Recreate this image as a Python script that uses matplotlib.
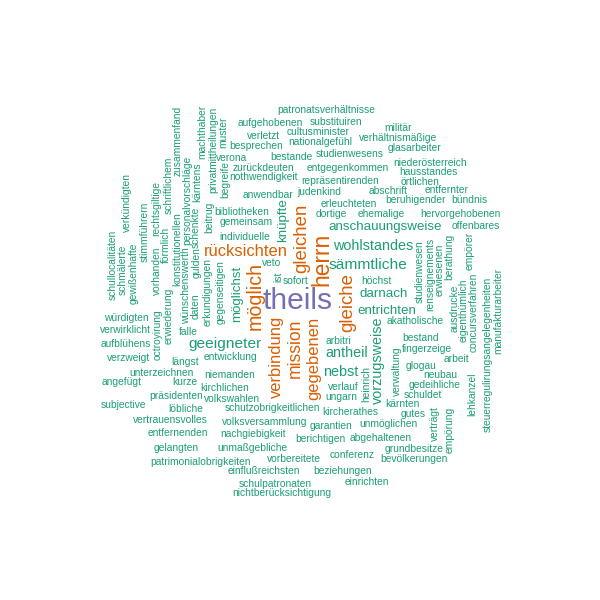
import matplotlib
matplotlib.use("Agg")
import matplotlib.pyplot as plt

words = [
    "theils", "herrn", "möglich", "gleichen", "gleiche", "mission",
    "rücksichten", "verbindung", "gegebenen",
    "sämmtliche", "geeigneter", "wohlstandes", "antheil", "nebst", "vorzugsweise",
    "entrichten", "möglichst", "knüpfte", "anschauungsweise", "darnach",
    "patronatsverhältnisse", "aufgehobenen", "substituiren", "cultusminister", "militär",
    "nationalgefühl", "verhältnismäßige", "verletzt", "besprechen", "glasarbeiter",
    "bestande", "studienwesens", "verona", "zurückdeuten", "entgegenkommen",
    "niederösterreich", "hausstandes", "nothwendigkeit", "repräsentirenden", "örtlichen",
    "anwendbar", "judenkind", "abschrift", "entfernter", "beruhigender", "bündnis",
    "erleuchteten", "dortige", "ehemalige", "hervorgehobenen", "offenbares",
    "bibliotheken", "gemeinsam", "individuelle", "muster", "privatmittheilungen",
    "machthaber", "begreife", "beitrug", "zusammenfand", "schriftlichem",
    "personalvorschläge", "kärntens", "schenkte", "konstitutionellen", "wünschenswerth",
    "förmlich", "rechtsgiltige", "vorhanden", "erwiederung", "octroyirung",
    "stimmführern", "verkündigten", "gewißenhafte", "schmälerte", "schullocalitäten",
    "gulden", "daten", "erkundigungen", "gegenseitigen", "veto", "ist", "sofort",
    "würdigten", "verwirklicht", "aufblühens", "verzweigt", "falle", "entwicklung",
    "längst", "unterzeichnen", "niemanden", "angefügt", "kurze", "kirchlichen",
    "präsidenten", "volkswahlen", "subjective", "löbliche", "schutzobrigkeitlichen",
    "vertrauensvolles", "volksversammlung", "entfernenden", "nachgiebigkeit", "gelangten",
    "unmaßgebliche", "patrimonialobrigkeiten", "vorbereitete", "einflußreichsten",
    "schulpatronaten", "nichtberücksichtigung", "beziehungen", "einrichten", "conferenz",
    "bevölkerungen", "grundbesitze", "berichtigen", "abgehaltenen", "garantien",
    "unmöglichen", "kircherathes", "kärnten", "gutes", "verträgt", "empörung",
    "lehkanzel", "steuerregulirungsangelegenheiten", "manufakturarbeiter", "empörer",
    "concursverfahren", "eigenthümlich", "ausdrucke", "berathung", "erwiesenen",
    "renseignements", "studienwesen", "akatholische", "bestand", "fingerzeige",
    "verwaltung", "glogau", "arbeit", "neubau", "gedeihliche", "schuldet", "heinrich",
    "verlauf", "ungarn", "arbitri", "höchst",
]
freq = [20, 13, 10, 9, 9, 8, 7, 7, 7, 6, 6, 5, 5, 5, 5, 4, 4, 4, 4, 4]
freq = freq + [1] * (len(words) - len(freq))

# where each word sits in the cloud (pixel coords, y down) and whether it is turned
layout = {
    "theils": (298, 301, 0), "herrn": (322, 259, 1), "möglich": (255, 296, 1),
    "gleichen": (302, 238, 1), "gleiche": (348, 303, 1), "mission": (295, 348, 1),
    "rücksichten": (246, 252, 0), "verbindung": (276, 357, 1), "gegebenen": (314, 358, 1),
    "sämmtliche": (368, 265, 0), "geeigneter": (225, 344, 0), "wohlstandes": (373, 246, 0),
    "antheil": (347, 353, 0), "nebst": (341, 372, 0), "vorzugsweise": (378, 360, 1),
    "entrichten": (387, 311, 0), "möglichst": (237, 294, 1), "knüpfte": (283, 220, 1),
    "anschauungsweise": (385, 227, 0), "darnach": (384, 294, 0),
    "patronatsverhältnisse": (326, 110, 0), "aufgehobenen": (270, 123, 0),
    "substituiren": (336, 122, 0), "cultusminister": (318, 132, 0), "militär": (398, 128, 0),
    "nationalgefühl": (320, 142, 0), "verhältnismäßige": (398, 138, 0),
    "verletzt": (264, 136, 0), "besprechen": (256, 146, 0), "glasarbeiter": (414, 148, 0),
    "bestande": (291, 157, 0), "studienwesens": (350, 154, 0), "verona": (232, 158, 0),
    "zurückdeuten": (263, 168, 0), "entgegenkommen": (348, 168, 0),
    "niederösterreich": (430, 163, 0), "hausstandes": (428, 172, 0),
    "nothwendigkeit": (264, 177, 0), "repräsentirenden": (340, 181, 0),
    "örtlichen": (420, 182, 0), "anwendbar": (268, 195, 0), "judenkind": (319, 192, 0),
    "abschrift": (388, 191, 0), "entfernter": (447, 190, 0), "beruhigender": (416, 200, 0),
    "bündnis": (469, 200, 0), "erleuchteten": (349, 204, 0), "dortige": (331, 214, 0),
    "ehemalige": (381, 214, 0), "hervorgehobenen": (460, 214, 0), "offenbares": (476, 226, 0),
    "bibliotheken": (242, 212, 0), "gemeinsam": (246, 222, 0), "individuelle": (245, 237, 0),
    "muster": (223, 132, 1), "privatmittheilungen": (213, 150, 1), "machthaber": (202, 132, 1),
    "begreife": (225, 180, 1), "beitrug": (209, 217, 1), "zusammenfand": (178, 141, 1),
    "schriftlichem": (169, 185, 1), "personalvorschläge": (187, 200, 1),
    "kärntens": (197, 182, 1), "schenkte": (196, 227, 1), "konstitutionellen": (177, 249, 1),
    "wünschenswerth": (186, 286, 1), "förmlich": (166, 245, 1), "rechtsgiltige": (156, 208, 1),
    "vorhanden": (157, 271, 1), "erwiederung": (169, 316, 1), "octroyirung": (158, 335, 1),
    "stimmführern": (145, 232, 1), "verkündigten": (127, 203, 1), "gewißenhafte": (134, 273, 1),
    "schmälerte": (123, 270, 1), "schullocalitäten": (113, 265, 1), "gulden": (197, 263, 1),
    "daten": (196, 306, 1), "erkundigungen": (208, 292, 1), "gegenseitigen": (221, 292, 1),
    "veto": (272, 263, 0), "ist": (278, 277, 1), "sofort": (296, 281, 0),
    "würdigten": (126, 318, 0), "verwirklicht": (125, 330, 0), "aufblühens": (126, 344, 0),
    "verzweigt": (129, 358, 0), "falle": (188, 332, 0), "entwicklung": (231, 357, 0),
    "längst": (185, 362, 0), "unterzeichnen": (162, 373, 0), "niemanden": (230, 375, 0),
    "angefügt": (122, 382, 0), "kurze": (185, 382, 0), "kirchlichen": (225, 388, 0),
    "präsidenten": (176, 396, 0), "volkswahlen": (232, 399, 0), "subjective": (123, 405, 0),
    "löbliche": (186, 409, 0), "schutzobrigkeitlichen": (272, 408, 0),
    "vertrauensvolles": (170, 420, 0), "volksversammlung": (265, 422, 0),
    "entfernenden": (178, 433, 0), "nachgiebigkeit": (253, 434, 0), "gelangten": (176, 448, 0),
    "unmaßgebliche": (252, 448, 0), "patrimonialobrigkeiten": (201, 462, 0),
    "vorbereitete": (294, 459, 0), "einflußreichsten": (264, 471, 0),
    "schulpatronaten": (275, 484, 0), "nichtberücksichtigung": (282, 493, 0),
    "beziehungen": (343, 471, 0), "einrichten": (367, 482, 0), "conferenz": (352, 455, 0),
    "bevölkerungen": (414, 459, 0), "grundbesitze": (414, 449, 0), "berichtigen": (320, 439, 0),
    "abgehaltenen": (381, 438, 0), "garantien": (331, 426, 0), "unmöglichen": (388, 424, 0),
    "kircherathes": (350, 412, 0), "kärnten": (402, 404, 0), "gutes": (413, 414, 0),
    "verträgt": (435, 424, 1), "empörung": (450, 430, 1), "lehkanzel": (472, 394, 1),
    "steuerregulirungsangelegenheiten": (488, 354, 1), "manufakturarbeiter": (498, 311, 1),
    "empörer": (470, 251, 1), "concursverfahren": (474, 312, 1), "eigenthümlich": (464, 310, 1),
    "ausdrucke": (455, 308, 1), "berathung": (449, 257, 1), "erwiesenen": (440, 270, 1),
    "renseignements": (430, 274, 1), "studienwesen": (420, 272, 1), "akatholische": (415, 321, 0),
    "bestand": (421, 338, 0), "fingerzeige": (427, 349, 0), "verwaltung": (397, 371, 1),
    "glogau": (421, 366, 0), "arbeit": (456, 359, 0), "neubau": (440, 375, 0),
    "gedeihliche": (435, 385, 0), "schuldet": (423, 395, 0), "heinrich": (366, 384, 1),
    "verlauf": (343, 387, 0), "ungarn": (341, 397, 0), "arbitri": (339, 341, 0),
    "höchst": (376, 281, 0),
}

palette = ["#1B9E77", "#D95F02", "#7570B3"]  # Dark2
size_max, size_min = 21.6, 7.4

fig = plt.figure(figsize=(6, 6), dpi=100)
ax = fig.add_axes([0, 0, 1, 1])
ax.set_xlim(0, 600)
ax.set_ylim(600, 0)
ax.axis("off")

fmax = max(freq)
fmin = min(freq)
for w, f in zip(words, freq):
    x, y, rot = layout[w]
    nf = f / fmax
    size = size_min + (size_max - size_min) * (f - fmin) / (fmax - fmin)
    col = palette[min(len(palette) - 1, int(-(-len(palette) * nf // 1)) - 1)]
    ax.text(x, y, w, fontsize=size, color=col, family="Liberation Sans",
            ha="center", va="center", rotation=90 if rot else 0,
            rotation_mode="anchor")

fig.savefig("out.png", dpi=100, facecolor="white")
